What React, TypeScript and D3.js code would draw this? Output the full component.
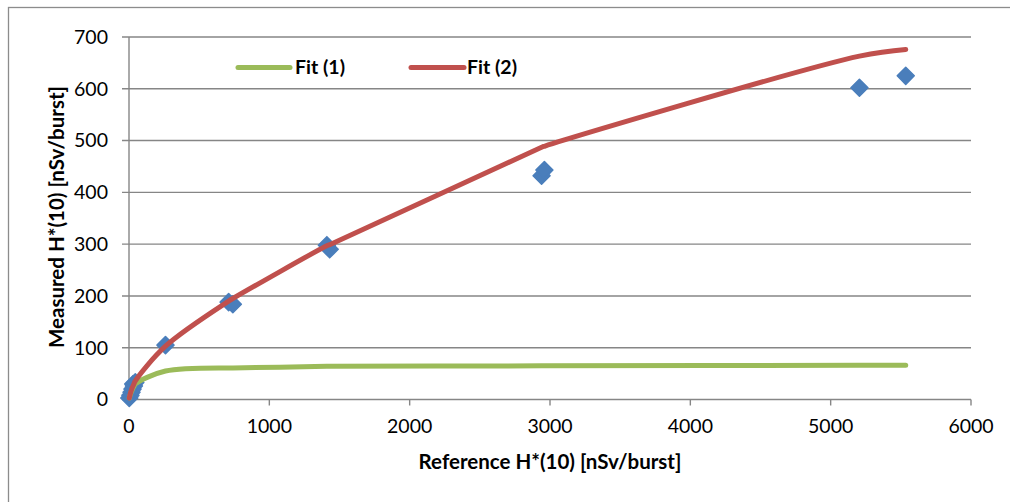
import React from "react";
import * as d3 from "d3";

// Reference dose vs measured dose, with two fitted response curves
const refDose = [2, 10, 18, 25, 30, 35, 45, 260, 710, 740, 1410, 1430, 2940, 2960, 5205, 5535];
const measuredDose = [3, 8, 14, 20, 30, 26, 33, 105, 188, 184, 298, 290, 432, 443, 602, 625];
const fit1 = [3, 10, 16, 20, 23, 25, 30, 55, 61, 61, 64, 64, 65, 65, 66, 66];
const fit2 = [3, 12, 19, 24, 27, 30, 36, 103, 190, 195, 297, 299, 487, 489, 663, 676];
const xTicks = [0, 1000, 2000, 3000, 4000, 5000, 6000];
const yTicks = [0, 100, 200, 300, 400, 500, 600, 700];

const W = 1010;
const H = 502;
const FONT = "Lato, 'Noto Sans', sans-serif";
const GRID = "#868686";
const BLUE = "#4A7EBB";
const GREEN = "#9BBB59";
const RED = "#C0504D";

export default function App() {
  const x = d3.scaleLinear().domain([0, 6000]).range([129, 971]);
  const y = d3.scaleLinear().domain([0, 700]).range([399.5, 37]);

  const line = d3
    .line<number>()
    .x((_, i) => x(refDose[i]))
    .curve(d3.curveCatmullRom.alpha(0.5));

  const fit1Path = line.y((v) => y(v))(fit1) || "";
  const fit2Path = line.y((v) => y(v))(fit2) || "";

  const diamond = d3.symbol(d3.symbolDiamond2, 185)() || "";

  return (
    <svg
      width={W}
      height={H}
      style={{ position: "absolute", left: 0, top: 0, background: "#fff" }}
      fontFamily={FONT}
    >
      <rect x={8.5} y={7.5} width={1100} height={600} fill="#fff" stroke="#8c8c8c" strokeWidth={1.3} />

      {/* horizontal gridlines */}
      {yTicks.map((t) => (
        <g key={"y" + t}>
          <line x1={122} x2={x(6000)} y1={y(t)} y2={y(t)} stroke={GRID} strokeWidth={1.4} />
          <text x={108} y={y(t)} dy="0.35em" textAnchor="end" fontSize={19.5} fill="#000">
            {t}
          </text>
        </g>
      ))}

      {/* axes */}
      <line x1={x(0)} x2={x(0)} y1={y(0)} y2={y(700)} stroke={GRID} strokeWidth={1.4} />
      {xTicks.map((t) => (
        <g key={"x" + t}>
          <line x1={x(t)} x2={x(t)} y1={y(0)} y2={y(0) + 6} stroke={GRID} strokeWidth={1.4} />
          <text x={x(t)} y={y(0) + 27} dy="0.35em" textAnchor="middle" fontSize={19.5} fill="#000">
            {t}
          </text>
        </g>
      ))}

      {/* measured points */}
      {refDose.map((d, i) => (
        <path
          key={"p" + i}
          d={diamond}
          transform={`translate(${x(d)},${y(measuredDose[i])})`}
          fill={BLUE}
          stroke={BLUE}
          strokeWidth={1.5}
          strokeLinejoin="round"
        />
      ))}

      {/* fitted curves */}
      <path d={fit1Path} fill="none" stroke={GREEN} strokeWidth={5} strokeLinecap="round" />
      <path d={fit2Path} fill="none" stroke={RED} strokeWidth={5} strokeLinecap="round" />

      {/* legend */}
      <line x1={238} x2={290} y1={67.5} y2={67.5} stroke={GREEN} strokeWidth={5} strokeLinecap="round" />
      <text x={295} y={67.5} dy="0.35em" fontSize={19.5} fontWeight="bold" fill="#000">
        Fit (1)
      </text>
      <line x1={411} x2={464} y1={67.5} y2={67.5} stroke={RED} strokeWidth={5} strokeLinecap="round" />
      <text x={467} y={67.5} dy="0.35em" fontSize={19.5} fontWeight="bold" fill="#000">
        Fit (2)
      </text>

      {/* axis titles */}
      <text x={550} y={462} dy="0.35em" textAnchor="middle" fontSize={20.5} fontWeight="bold" fill="#000">
        Reference H*(10) [nSv/burst]
      </text>
      <text
        transform={`translate(57,217) rotate(-90)`}
        dy="0.35em"
        textAnchor="middle"
        fontSize={20.5}
        fontWeight="bold"
        fill="#000"
      >
        Measured H*(10) [nSv/burst]
      </text>
    </svg>
  );
}
